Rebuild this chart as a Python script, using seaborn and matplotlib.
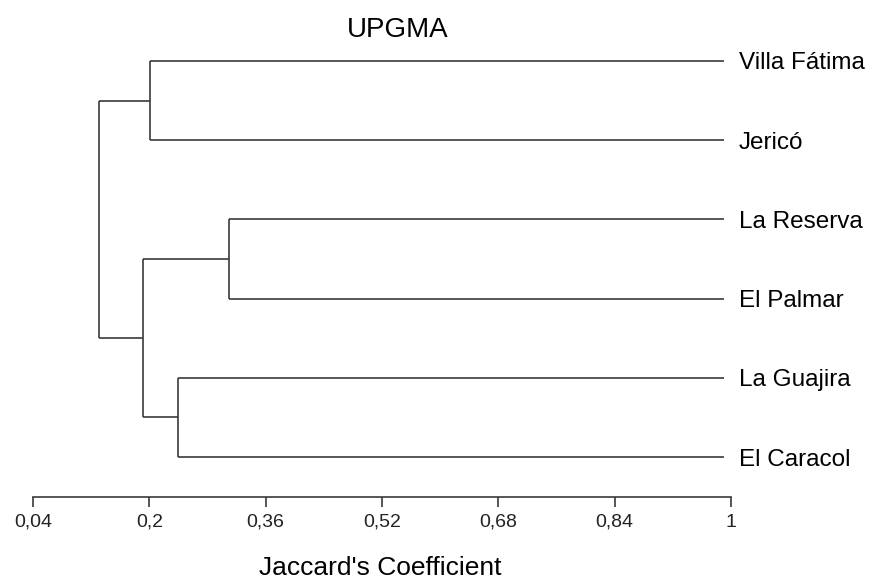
import numpy as np
import matplotlib
matplotlib.use("Agg")
import matplotlib.pyplot as plt
import seaborn as sns

# Leaves (top to bottom) and UPGMA merges: (left id, right id, similarity)
leaf_labels = ["Villa Fátima", "Jericó", "La Reserva", "El Palmar", "La Guajira", "El Caracol"]
merge_left = [0, 2, 4, 7, 6]
merge_right = [1, 3, 5, 8, 9]
merge_height = [0.201, 0.309, 0.239, 0.191, 0.131]
leaf_height = 0.99

tick_values = [0.04, 0.2, 0.36, 0.52, 0.68, 0.84, 1.0]
tick_labels = ["0,04", "0,2", "0,36", "0,52", "0,68", "0,84", "1"]

sns.set_theme(style="white")
plt.rcParams['font.family'] = ['Liberation Sans', 'DejaVu Sans']

fig = plt.figure(figsize=(8.79, 5.82), dpi=100)
ax = fig.add_axes([33 / 879, 1 - 497 / 582, 698 / 879, (497 - 40) / 582])

line_kw = dict(color="#3a3a3a", lw=1.2, solid_capstyle="butt")

# node positions: x = similarity, y = vertical slot
xs = [leaf_height] * len(leaf_labels)
ys = list(range(len(leaf_labels)))
for l, r, h in zip(merge_left, merge_right, merge_height):
    # horizontal branches from children to the node height
    ax.plot([h, xs[l]], [ys[l], ys[l]], **line_kw)
    ax.plot([h, xs[r]], [ys[r], ys[r]], **line_kw)
    # vertical connector
    ax.plot([h, h], [ys[l], ys[r]], **line_kw)
    xs.append(h)
    ys.append((ys[l] + ys[r]) / 2)

for i, name in enumerate(leaf_labels):
    ax.text(leaf_height + 0.021, i, name, va="center_baseline", ha="left",
            fontsize=17.5, color="black")

ax.set_xlim(0.04, 1.0)
ax.set_ylim(5.505, -0.265)
ax.set_xticks(tick_values)
ax.set_xticklabels(tick_labels, fontsize=14, color="#222222")
ax.set_yticks([])
sns.despine(ax=ax, left=True, top=True, right=True)
ax.spines['bottom'].set_color("#3a3a3a")
ax.spines['bottom'].set_linewidth(1.2)
ax.tick_params(axis="x", direction="out", length=7, width=1.2, color="#3a3a3a", pad=5, bottom=True)

fig.text(398 / 879, 1 - 37 / 582, "UPGMA", ha="center", va="baseline", fontsize=20, color="black")
fig.text(380 / 879, 1 - 575 / 582, "Jaccard's Coefficient", ha="center", va="baseline",
         fontsize=19, color="black")

fig.savefig("out.png", dpi=100)
